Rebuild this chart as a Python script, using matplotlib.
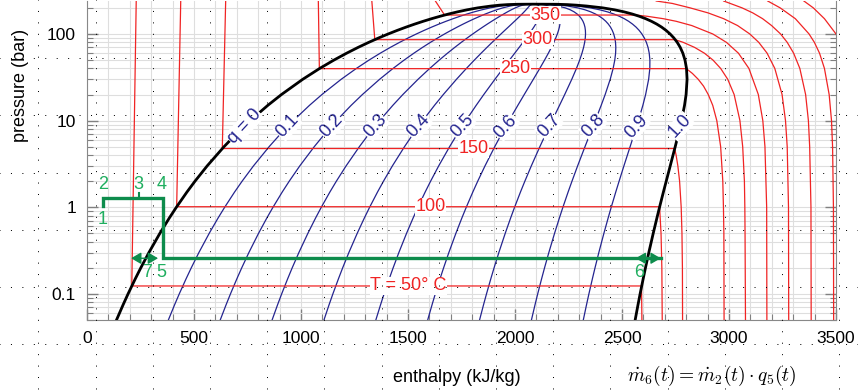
import numpy as np
import matplotlib.pyplot as plt
from matplotlib.ticker import MultipleLocator, LogLocator, NullFormatter

plt.rcParams['font.family'] = ['Liberation Sans', 'DejaVu Sans']
plt.rcParams['mathtext.fontset'] = 'cm'

# Saturation data for water (pressure in bar, enthalpy in kJ/kg)
p_sat = [0.05, 0.075, 0.1, 0.15, 0.2, 0.3, 0.5, 0.75, 1.0, 1.5, 2, 3, 5, 7, 10, 15, 20,
         30, 40, 50, 60, 70, 80, 90, 100, 110, 120, 130, 140, 150, 160, 170, 180,
         190, 200, 210, 215, 218, 220, 220.64]
h_liq = [137.8, 168.8, 191.8, 226.0, 251.4, 289.2, 340.5, 384.4, 417.5, 467.1, 504.7,
         561.5, 640.2, 697.2, 762.8, 844.9, 908.8, 1008.4, 1087.3, 1154.2, 1213.4,
         1267.0, 1316.6, 1363.3, 1407.6, 1450.1, 1491.3, 1531.5, 1571.1, 1610.5,
         1650.1, 1690.3, 1732.0, 1776.5, 1826.3, 1888.4, 1929.0, 1965.0, 2011.3, 2084.3]
h_vap = [2561.5, 2574.8, 2584.6, 2599.1, 2609.7, 2625.3, 2645.9, 2663.0, 2675.4, 2693.5,
         2706.7, 2725.3, 2748.7, 2763.5, 2778.1, 2792.2, 2799.5, 2804.1, 2801.4, 2794.3,
         2784.3, 2772.1, 2758.0, 2742.1, 2724.7, 2705.6, 2684.9, 2662.2, 2637.6, 2610.5,
         2580.6, 2547.2, 2509.1, 2464.5, 2409.7, 2334.6, 2285.0, 2245.0, 2195.6, 2084.3]

qualities = [0.1, 0.2, 0.3, 0.4, 0.5, 0.6, 0.7, 0.8, 0.9]
q_labels = ['q = 0', '0.1', '0.2', '0.3', '0.4', '0.5', '0.6', '0.7', '0.8', '0.9', '1.0']
q_label_values = [0.0, 0.1, 0.2, 0.3, 0.4, 0.5, 0.6, 0.7, 0.8, 0.9, 1.0]

# isotherms with a two-phase part
iso_labels = ['T = 50° C', '100', '150', '250', '300', '350']
iso_psat = [0.1235, 1.0142, 4.762, 39.76, 85.88, 165.29]
iso_hf = [209.3, 419.0, 632.2, 1085.8, 1344.8, 1670.9]
iso_hg = [2591.3, 2675.6, 2745.9, 2800.9, 2748.7, 2563.6]
iso_hliq_top = [230.0, 438.0, 648.0, 1081.0, 1331.0, 1628.0]   # liquid at 240 bar
iso_label_h = [1502, 1605, 1806, 2003, 2106, 2143]

# superheated branches (from saturation down to low pressure)
vap50_p = [0.1235, 0.05]
vap50_h = [2591.3, 2593.0]
vap100_p = [1.0142, 0.5, 0.2, 0.05]
vap100_h = [2675.6, 2682.4, 2686.2, 2688.0]
vap150_p = [4.762, 4, 3, 2, 1, 0.5, 0.2, 0.05]
vap150_h = [2745.9, 2752.8, 2761.0, 2769.1, 2776.6, 2780.2, 2782.3, 2783.0]
vap250_p = [39.76, 35, 30, 25, 20, 15, 10, 5, 2, 1, 0.5, 0.05]
vap250_h = [2800.9, 2829, 2856, 2881, 2903, 2924, 2943, 2961, 2971, 2974, 2976, 2977]
vap300_p = [85.88, 80, 70, 60, 50, 40, 30, 20, 10, 5, 2, 1, 0.5, 0.05]
vap300_h = [2748.7, 2786, 2839, 2885, 2925, 2961, 2994, 3024, 3051, 3064, 3072, 3074, 3075, 3077]
vap350_p = [165.29, 160, 150, 140, 125, 100, 80, 60, 40, 20, 10, 5, 1, 0.05]
vap350_h = [2563.6, 2617, 2693, 2753, 2826, 2924, 2988, 3044, 3093, 3137, 3158, 3168, 3176, 3177]

# supercritical isotherms (400, 450, 500, 550 °C)
sc400_p = [240, 225, 200, 175, 150, 125, 100, 80, 60, 40, 20, 10, 5, 1, 0.05]
sc400_h = [2660, 2735, 2818, 2902, 2975, 3040, 3097, 3139, 3178, 3214, 3248, 3264, 3272, 3278, 3279]
sc450_p = [240, 200, 175, 150, 125, 100, 80, 60, 40, 20, 10, 5, 1, 0.05]
sc450_h = [2975, 3061, 3111, 3157, 3199, 3241, 3272, 3302, 3331, 3358, 3371, 3377, 3383, 3384]
sc500_p = [240, 200, 150, 100, 80, 60, 40, 20, 10, 5, 1, 0.05]
sc500_h = [3181, 3239, 3310, 3374, 3399, 3423, 3446, 3468, 3479, 3484, 3488, 3489]
sc550_p = [240, 200, 150, 100, 80, 60]
sc550_h = [3350, 3394, 3446, 3500, 3521, 3541]

# process drawn on top (green)
cycle_h = [75, 75, 356, 356, 2681]
cycle_p = [1.03, 1.27, 1.27, 0.258, 0.258]
cycle_names = ['1', '2', '3', '4', '7', '5', '6']
cycle_name_h = [75, 75, 239, 351, 281, 346, 2578]
cycle_name_p = [0.72, 1.84, 1.84, 1.84, 0.178, 0.178, 0.178]

red = '#f02424'
navy = '#24248f'
green_line = '#0d8c4c'
green_text = '#1fae5f'

fig = plt.figure(figsize=(8.58, 3.91), dpi=100)
ax = fig.add_axes([87 / 858, 1 - 320 / 391, (836 - 87) / 858, 319 / 391])
ax.set_yscale('log')
ax.set_xlim(0, 3500)
ax.set_ylim(0.05, 240)

# quality lines
p_arr = np.array(p_sat)
hl = np.array(h_liq)
hv = np.array(h_vap)
for q in qualities:
    ax.plot(hl + q * (hv - hl), p_arr, color=navy, lw=0.9, zorder=2)

# isotherms
vap_p = [vap50_p, vap100_p, vap150_p, vap250_p, vap300_p, vap350_p]
vap_h = [vap50_h, vap100_h, vap150_h, vap250_h, vap300_h, vap350_h]
for i in range(len(iso_labels)):
    hh = [iso_hliq_top[i], iso_hf[i]] + vap_h[i]
    pp = [240, iso_psat[i]] + vap_p[i]
    ax.plot(hh, pp, color=red, lw=0.9, zorder=3)
    ax.text(iso_label_h[i], iso_psat[i], iso_labels[i], color=red, fontsize=13,
            ha='center', va='center', zorder=5,
            bbox=dict(facecolor='white', edgecolor='none', pad=0.5))
for hh, pp in [(sc400_h, sc400_p), (sc450_h, sc450_p), (sc500_h, sc500_p), (sc550_h, sc550_p)]:
    ax.plot(hh, pp, color=red, lw=0.9, zorder=3)

# saturation dome
ax.plot(h_liq + h_vap[::-1], p_sat + p_sat[::-1], color='black', lw=2.0, zorder=4)

# quality labels
p_lab = 8.6
lp = np.log10(p_arr)
hl_lab = np.interp(np.log10(p_lab), lp, hl)
hv_lab = np.interp(np.log10(p_lab), lp, hv)
for txt, q in zip(q_labels, q_label_values):
    ax.text(hl_lab + q * (hv_lab - hl_lab), p_lab, txt, color=navy, fontsize=13,
            rotation=47, ha='center', va='center', rotation_mode='anchor', zorder=5,
            bbox=dict(facecolor='white', edgecolor='none', pad=0.2))

# green process
ax.plot(cycle_h, cycle_p, color=green_line, lw=2.4, zorder=6, solid_joinstyle='miter')
ax.plot([243, 243], [1.27, 1.45], color=green_line, lw=1.5, zorder=6)
for h0, h1 in [(206, 332), (2564, 2681)]:
    ax.annotate('', xy=(h1, 0.258), xytext=(h0, 0.258), zorder=7,
                arrowprops=dict(arrowstyle='<|-|>,head_length=0.6,head_width=0.35',
                                color=green_line, lw=1.0, shrinkA=0, shrinkB=0))
for txt, h, p in zip(cycle_names, cycle_name_h, cycle_name_p):
    ax.text(h, p, txt, color=green_text, fontsize=13, ha='center', va='center', zorder=7)

# axes styling
ax.set_xticks(range(0, 3501, 500))
ax.xaxis.set_minor_locator(MultipleLocator(100))
ax.set_yticks([0.1, 1, 10, 100], ['0.1', '1', '10', '100'])
ax.yaxis.set_minor_locator(LogLocator(base=10, subs=np.arange(2, 10)))
ax.yaxis.set_minor_formatter(NullFormatter())
ax.tick_params(which='both', direction='in', right=True, top=False, color='#808080',
               labelsize=12.5, labelcolor='black')
ax.tick_params(which='major', length=8, width=1, pad=8)
ax.tick_params(which='minor', length=4, width=0.8)
ax.grid(which='both', color='#dedede', lw=0.8)
ax.set_axisbelow(True)
for side in ['left', 'right', 'bottom']:
    ax.spines[side].set_color('#888888')
ax.spines['top'].set_visible(False)

fig.text(457 / 858, 1 - 377 / 391, 'enthalpy (kJ/kg)', fontsize=13, ha='center', va='center')
fig.text(21 / 858, 1 - 85 / 391, 'pressure (bar)', fontsize=13, ha='center', va='center',
         rotation=90)
fig.text(712 / 858, 1 - 376 / 391, r'$\dot{m}_6(t) = \dot{m}_2(t) \cdot q_5(t)$',
         fontsize=14, ha='center', va='center')

# dotted background pattern over the whole picture
ov = fig.add_axes([0, 0, 1, 1], zorder=10)
ov.set_xlim(0, 858)
ov.set_ylim(391, 0)
ov.axis('off')
ov.patch.set_alpha(0)
step = 57.2
gap = step / 5
for k in range(6):
    y = 58.2 + step * k
    ov.plot([38.3 - 4 * gap, 870], [y, y], color='black', lw=0.72, dashes=(1, gap - 1))
for k in range(15):
    x = 38.3 + step * k
    ov.plot([x, x], [58.2 - 6 * gap, 400], color='black', lw=0.72, dashes=(1, gap - 1))

fig.savefig('out.png', dpi=100)
